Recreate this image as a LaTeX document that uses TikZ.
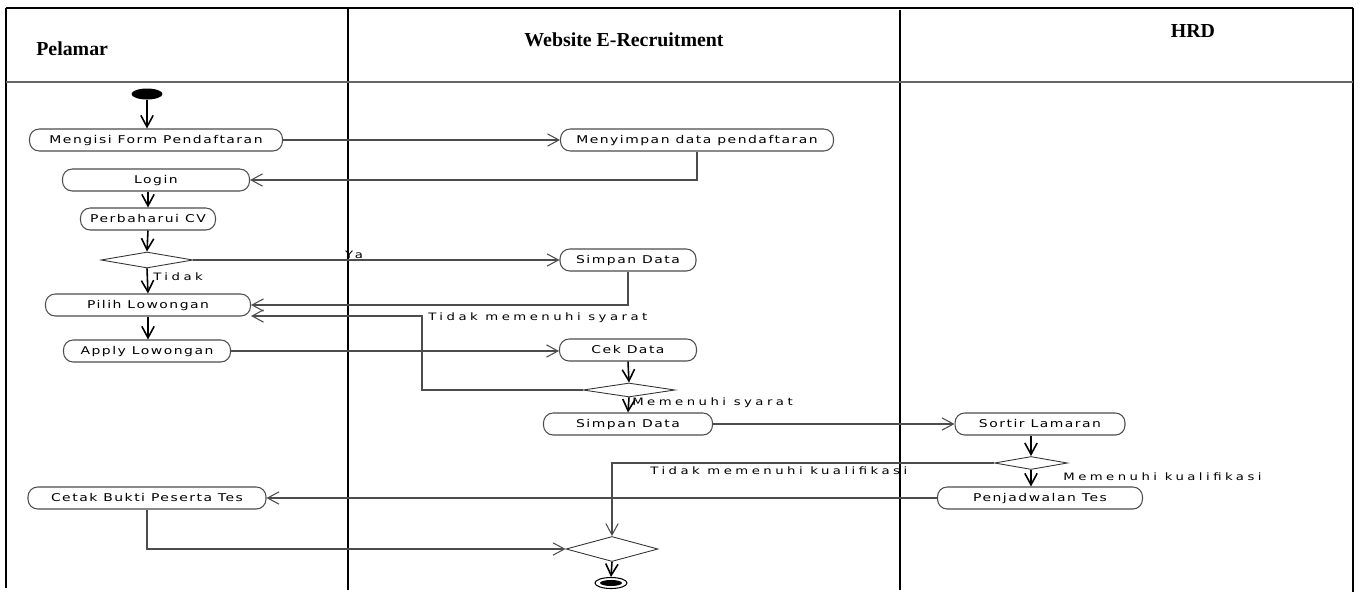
\documentclass[tikz,border=0pt]{standalone}
\usepackage{fontspec}
\setmainfont{Liberation Serif}
\newfontfamily\umlfont{DejaVu Sans}[FakeStretch=1.3,LetterSpace=14]
\newfontfamily\lblfont{DejaVu Sans}[FakeStretch=1.3,LetterSpace=34]
\usetikzlibrary{shapes.geometric,arrows.meta}
\begin{document}
\begin{tikzpicture}[x=0.02cm,y=-0.02cm,
  lane/.style={line width=1.3pt,black},
  sep/.style={line width=0.6pt,black!60},
  act/.style={draw=black!70,line width=0.6pt,rounded corners=5.5pt,minimum height=0.44cm,inner sep=0pt,text height=4.5pt,text depth=0.3pt,font=\umlfont\fontsize{6.1}{7}\selectfont},
  dec/.style={draw=black!80,line width=0.5pt,diamond,inner sep=0pt,minimum width=1.84cm},
  flow/.style={draw=black!70,line width=0.6pt,-{Straight Barb[length=6.5pt,width=7pt]}},
  vflow/.style={draw=black,line width=0.9pt,-{Straight Barb[length=6.5pt,width=7pt]}},
  lbl/.style={font=\lblfont\fontsize{5.8}{7}\selectfont,inner sep=0pt},
  head/.style={font=\bfseries\fontsize{11.3}{13}\selectfont,inner sep=0pt}]
\useasboundingbox (0,0) rectangle (1359,595);
% swimlanes
\draw[lane] (6,8) -- (1353,8);
\draw[lane] (6,8) -- (6,588);
\draw[lane] (1353,8) -- (1353,592);
\draw[lane] (348,8) -- (348,590);
\draw[lane] (900,10) -- (900,590);
\draw[sep] (6,82) -- (1353,82);
\node[head,anchor=west] (hp) at (36,49) {Pelamar};
\node[head] (hw) at (624,40) {Website E-Recruitment};
\node[head] (hh) at (1193,31) {HRD};
% nodes
\node[ellipse,fill=black,minimum width=0.62cm,minimum height=0.22cm,inner sep=0pt] (start) at (147,94) {};
\node[act,minimum width=5.06cm] (mengisi) at (156,140) {Mengisi Form Pendaftaran};
\node[act,minimum width=3.74cm] (login) at (156,180) {Login};
\node[act,minimum width=2.7cm] (perb) at (148,219) {Perbaharui CV};
\node[dec,minimum height=0.32cm] (d1) at (147,260) {};
\node[act,minimum width=4.1cm] (pilih) at (148,305) {Pilih Lowongan};
\node[act,minimum width=3.34cm] (apply) at (147,351) {Apply Lowongan};
\node[act,minimum width=4.76cm] (cetak) at (147,498) {Cetak Bukti Peserta Tes};
\node[act,minimum width=5.46cm] (menyimpan) at (697,140) {Menyimpan data pendaftaran};
\node[act,minimum width=2.72cm] (simpan1) at (628,260) {Simpan Data};
\node[act,minimum width=2.74cm] (cek) at (628,350) {Cek Data};
\node[dec,minimum height=0.28cm] (d2) at (629,390) {};
\node[act,minimum width=3.38cm] (simpan2) at (628,424) {Simpan Data};
\node[dec,minimum height=0.5cm] (dfin) at (612,549) {};
\node[ellipse,draw=black,line width=0.6pt,minimum width=0.64cm,minimum height=0.22cm,inner sep=0pt] (end) at (611,583) {};
\node[ellipse,fill=black,minimum width=0.44cm,minimum height=0.12cm,inner sep=0pt] (endin) at (611,583) {};
\node[act,minimum width=3.4cm] (sortir) at (1040,424) {Sortir Lamaran};
\node[dec,minimum width=1.46cm,minimum height=0.26cm] (d3) at (1031,463) {};
\node[act,minimum width=4.1cm] (penj) at (1040,498) {Penjadwalan Tes};
\coordinate (c1) at (422,316);
% labels
\node[lbl] (lya) at (354,255) {Ya};
\node[lbl,anchor=west] (ltidak) at (153,277) {Tidak};
\node[lbl,anchor=west] (ltms) at (428,318) {Tidak memenuhi syarat};
\node[lbl,anchor=west] (lms) at (632,403) {Memenuhi syarat};
\node[lbl,anchor=west] (ltmk) at (650,471) {Tidak memenuhi kualifikasi};
\node[lbl,anchor=west] (lmk) at (1063,477) {Memenuhi kualifikasi};
% connectors
\draw[vflow] (start.south) -- (start.south |- mengisi.north);
\draw[flow] (mengisi.east) -- (menyimpan.west);
\draw[flow] (menyimpan.south) |- (login.east);
\draw[vflow] (perb.north |- login.south) -- (perb.north);
\draw[vflow] (perb.south) -- (d1.north);
\draw[flow] (d1.east) -- (simpan1.west);
\draw[vflow] (d1.south) -- (pilih.north);
\draw[flow] (simpan1.south) |- (pilih.east);
\draw[flow] (d2.west) -| (c1) -- (pilih.east |- c1);
\draw[vflow] (pilih.south) -- (apply.north -| pilih.south);
\draw[flow] (apply.east) -- (cek.west |- apply.east);
\draw[vflow] (cek.south) -- (d2.north);
\draw[vflow] (d2.south) -- (simpan2.north);
\draw[flow] (simpan2.east) -- (sortir.west);
\draw[vflow] (sortir.south -| d3.north) -- (d3.north);
\draw[vflow] (d3.south) -- (penj.north -| d3.south);
\draw[flow] (d3.west) -| (dfin.north);
\draw[flow] (penj.west) -- (cetak.east);
\draw[flow] (cetak.south) |- (dfin.west);
\draw[vflow] (dfin.south) -- (end.north);
\end{tikzpicture}
\end{document}
